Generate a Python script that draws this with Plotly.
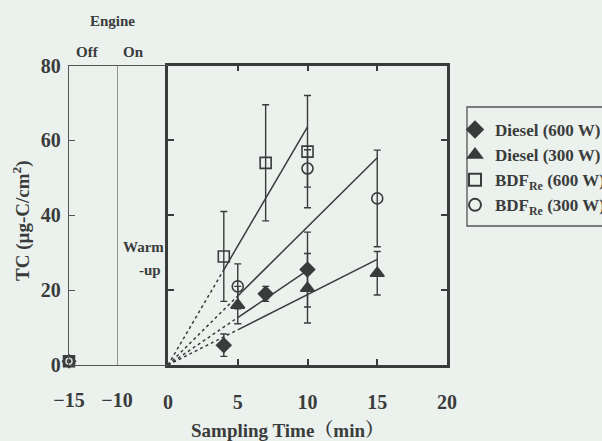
import plotly.graph_objects as go

W, H = 602, 441
BG = "#ebf1ec"
INK = "#3a3c3c"
FONT = "Liberation Serif, Noto Serif CJK JP, Noto Sans CJK JP, serif"

# ---- data ----
series_names = ["Diesel (600 W)", "Diesel (300 W)",
                "BDF<sub>Re</sub> (600 W)", "BDF<sub>Re</sub> (300 W)"]
symbols = ["diamond", "triangle-up", "square-open", "circle-open"]

diesel600_x = [4, 7, 10]
diesel600_y = [5.3, 19.0, 25.5]
diesel600_err = [3.0, 2.0, 10.0]

diesel300_x = [5, 10, 15]
diesel300_y = [16.0, 20.5, 24.5]
diesel300_err = [5.0, 9.3, 5.8]

bdf600_x = [4, 7, 10]
bdf600_y = [29.0, 54.0, 57.0]
bdf600_err = [12.0, 15.5, 15.0]

bdf300_x = [5, 10, 15]
bdf300_y = [21.0, 52.5, 44.5]
bdf300_err = [6.0, 5.0, 12.9]

# before engine start (t = -15 min)
pre_x = [-15]
pre_y = [1.0, 1.0, 1.0, 1.0]

# linear fits through origin: slope, end of dotted part, end of line
fit_slope = [2.53, 1.88, 6.36, 3.69]
fit_dot_end = [5, 5, 4, 5]
fit_end = [10, 15, 10, 15]

main_ticks = [0, 5, 10, 15, 20]
y_ticks = [0, 20, 40, 60, 80]

xs = [diesel600_x, diesel300_x, bdf600_x, bdf300_x]
ys = [diesel600_y, diesel300_y, bdf600_y, bdf300_y]
errs = [diesel600_err, diesel300_err, bdf600_err, bdf300_err]


def px_x(p):
    return p / W


def px_y(p):
    return (H - p) / H


fig = go.Figure()

# fit lines
for i in range(4):
    s = fit_slope[i]
    fig.add_trace(go.Scatter(x=[0, fit_dot_end[i]], y=[0, s * fit_dot_end[i]],
                             mode="lines", line=dict(color=INK, width=1.5, dash="dot"),
                             showlegend=False, hoverinfo="skip", xaxis="x", yaxis="y"))
    fig.add_trace(go.Scatter(x=[fit_dot_end[i], fit_end[i]],
                             y=[s * fit_dot_end[i], s * fit_end[i]],
                             mode="lines", line=dict(color=INK, width=1.5),
                             showlegend=False, hoverinfo="skip", xaxis="x", yaxis="y"))

sizes = [11, 12, 11, 11]
for i in range(4):
    fig.add_trace(go.Scatter(
        x=xs[i], y=ys[i], mode="markers", name=series_names[i],
        marker=dict(symbol=symbols[i], size=sizes[i], color=INK,
                    line=dict(color=INK, width=1.6)),
        error_y=dict(type="data", array=errs[i], visible=True, color=INK,
                     thickness=1.4, width=3.5),
        cliponaxis=False, xaxis="x", yaxis="y"))

# points before engine on
pre_sym = ["diamond", "triangle-up", "square", "circle-open"]
pre_col = [INK, INK, INK, "#d8ddd9"]
for i in range(4):
    fig.add_trace(go.Scatter(
        x=pre_x, y=[pre_y[i]], mode="markers", showlegend=False,
        marker=dict(symbol=pre_sym[i], size=[10, 10, 11, 6][i], color=pre_col[i],
                    line=dict(color=pre_col[i], width=1.5)),
        cliponaxis=False, xaxis="x3", yaxis="y2"))

tick_font = dict(family=FONT, size=20, color=INK, weight="bold")

fig.update_layout(
    width=W, height=H,
    margin=dict(l=0, r=0, t=0, b=0, autoexpand=False),
    paper_bgcolor=BG, plot_bgcolor=BG,
    font=dict(family=FONT, color=INK, weight="bold"),
    xaxis=dict(domain=[px_x(168), px_x(447)], range=[0, 20], anchor="y",
               tickvals=main_ticks, ticks="inside", ticklen=6, tickwidth=2,
               tickcolor=INK, showline=True, linewidth=2.5, linecolor=INK,
               mirror="allticks", showgrid=False, zeroline=False,
               tickfont=tick_font, ticklabelstandoff=17),
    yaxis=dict(domain=[px_y(365), px_y(65.5)], range=[0, 80], anchor="x",
               tickvals=y_ticks, ticks="inside", ticklen=6, tickwidth=2,
               tickcolor=INK, showline=True, linewidth=2.5, linecolor=INK,
               mirror="allticks", showgrid=False, zeroline=False,
               showticklabels=False),
    xaxis2=dict(domain=[px_x(117), px_x(168)], range=[-10, 0], anchor="y2",
                tickvals=[-10], ticks="", showline=True, linewidth=1.3,
                linecolor="#555", mirror=True, showgrid=False, zeroline=False,
                tickfont=tick_font, ticklabelstandoff=17),
    xaxis3=dict(domain=[px_x(69), px_x(117)], range=[-15, -10], anchor="y2",
                tickvals=[-15], ticks="", showline=True, linewidth=1.3,
                linecolor="#555", mirror=True, showgrid=False, zeroline=False,
                tickfont=tick_font, ticklabelstandoff=17),
    yaxis2=dict(domain=[px_y(365), px_y(65.5)], range=[0, 80], anchor="x3",
                tickvals=y_ticks, ticks="inside", ticklen=6, tickwidth=1.3,
                tickcolor="#555", showline=True, linewidth=1.3, linecolor="#555",
                showgrid=False, zeroline=False, tickfont=tick_font,
                ticklabelstandoff=3),
    legend=dict(x=px_x(455), y=px_y(112), xanchor="left", yanchor="top",
                bgcolor="rgba(0,0,0,0)", borderwidth=0,
                font=dict(family=FONT, size=17, color=INK, weight="bold"),
                itemsizing="constant", itemwidth=30, tracegroupgap=0),
)

# legend frame (extends past the right edge as in the reference)
fig.add_shape(type="rect", xref="paper", yref="paper",
              x0=px_x(467), x1=px_x(640), y0=px_y(226), y1=px_y(107),
              line=dict(color="#555", width=1.3))

# engine on line
fig.add_shape(type="line", xref="x2", yref="y2", x0=-10, x1=-10, y0=0, y1=83.5,
              line=dict(color="#555", width=1.2))

ann = [
    ("Engine", 112, 21, 15, 0),
    ("Off", 87, 52, 15, 0),
    ("On", 133, 52, 15, 0),
    ("Warm", 143, 247, 15, 0),
    ("-up", 150, 270, 15, 0),
    ("TC (µg-C/cm<sup>2</sup>)", 22, 221, 19, -90),
    ("Sampling Time（min）", 287, 430, 19, 0),
]
for t, x, y, s, a in ann:
    fig.add_annotation(text=t, xref="paper", yref="paper", x=px_x(x), y=px_y(y),
                       xanchor="center", yanchor="middle", showarrow=False,
                       textangle=a,
                       font=dict(family=FONT, size=s, color=INK, weight="bold"))

fig.write_html("out.html")
